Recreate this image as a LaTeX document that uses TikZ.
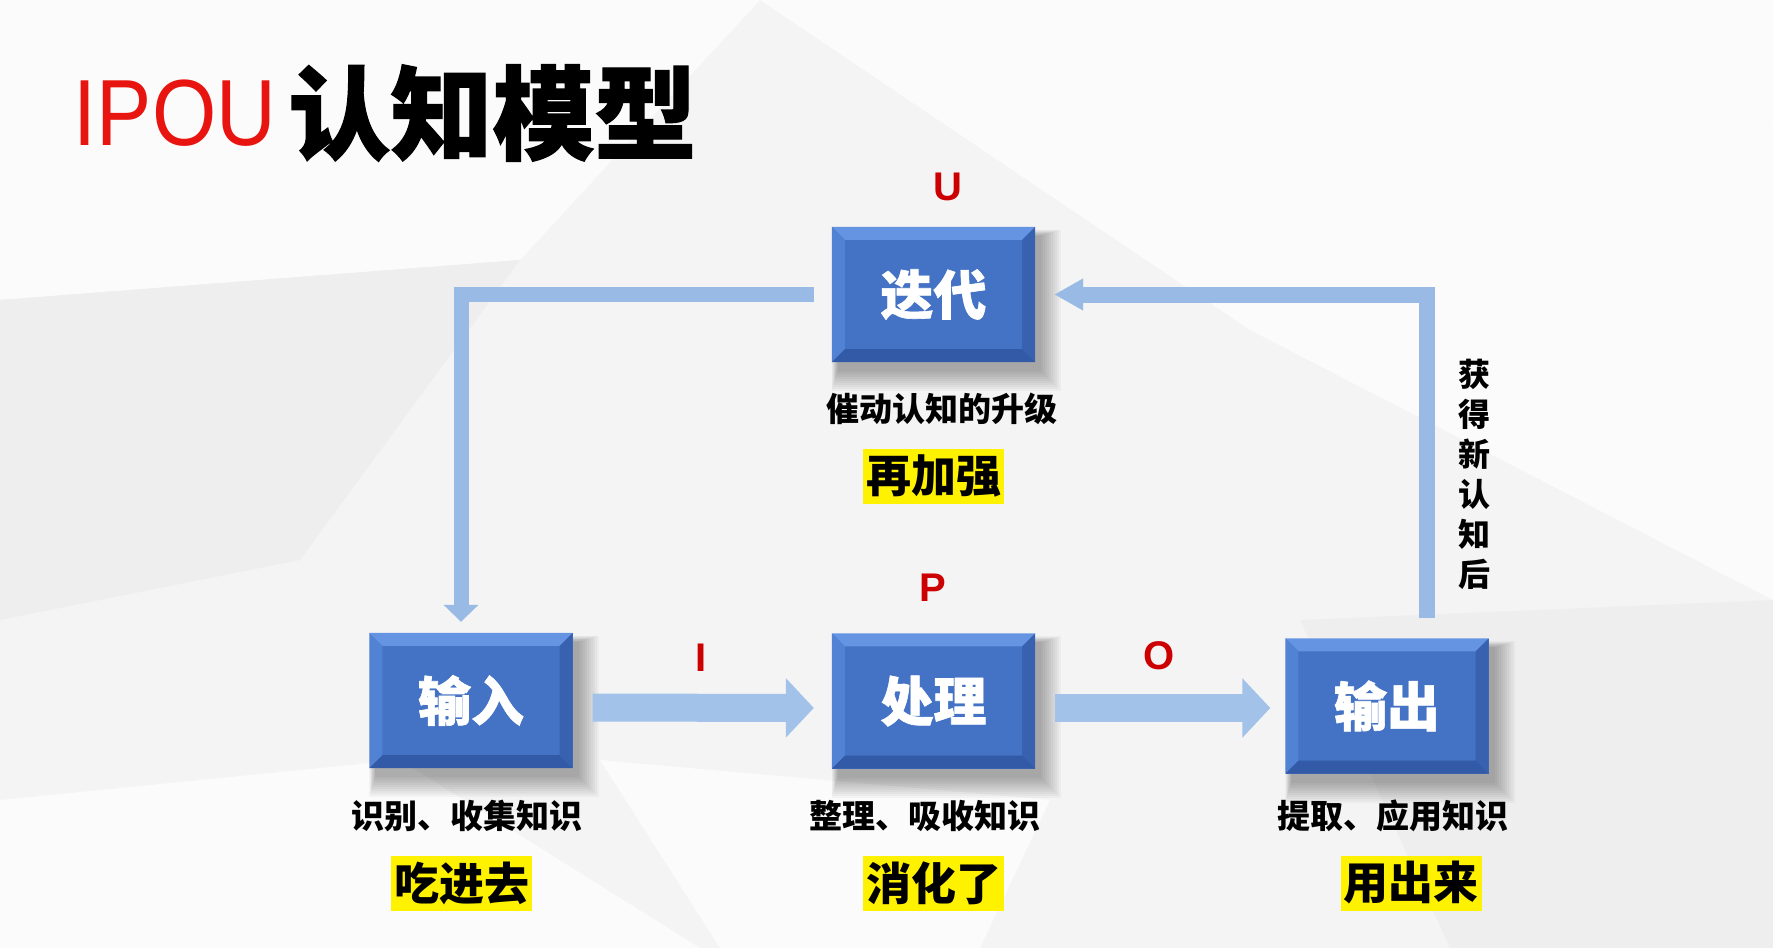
\documentclass[tikz,border=0pt]{standalone}
\usepackage{fontspec}
\setmainfont{Liberation Sans}
\newfontfamily\cjk{Noto Sans CJK SC}
\newfontfamily\cjkheavy{Noto Sans CJK SC}[BoldFeatures={FakeBold=1.2}]
\usetikzlibrary{arrows.meta,calc}
\pgfdeclarelayer{bg}
\pgfdeclarelayer{shadow}
\pgfsetlayers{bg,shadow,main}
\definecolor{bgbase}{RGB}{244,244,244}
\definecolor{bglight}{RGB}{251,251,251}
\definecolor{bgdark}{RGB}{238,238,238}
\definecolor{boxface}{RGB}{68,114,196}
\definecolor{bevtop}{RGB}{100,148,226}
\definecolor{bevleft}{RGB}{82,130,212}
\definecolor{bevright}{RGB}{56,98,176}
\definecolor{bevbottom}{RGB}{50,90,166}
\definecolor{arrowfill}{RGB}{162,194,234}
\definecolor{connfill}{RGB}{152,186,228}
\definecolor{lblred}{RGB}{204,0,0}
\definecolor{titlered}{RGB}{232,20,16}
\definecolor{hiyellow}{RGB}{255,242,0}
\tikzset{
  pbox/.style={fill=boxface, minimum width=203pt, minimum height=135pt, inner sep=0pt},
  boxtext/.style={text=white, font=\fontsize{53}{53}\selectfont\cjkheavy\bfseries},
  sublbl/.style={font=\fontsize{33}{33}\selectfont\cjk\bfseries, text=black, inner sep=0pt},
  hilbl/.style={fill=hiyellow, minimum width=141pt, minimum height=55pt, inner sep=0pt,
    font=\fontsize{45}{45}\selectfont\cjk\bfseries, text=black},
  letter/.style={font=\fontsize{40}{40}\selectfont\bfseries, text=lblred, inner sep=0pt},
  bigarrow/.style={draw=arrowfill, line width=28pt,
    -{Triangle[width=58pt,length=28pt,fill=arrowfill,color=arrowfill]}},
  connline/.style={draw=connfill, line width=15pt, line join=miter},
}
\newcommand\bevelbox[1]{%
  \fill[bevtop] (#1.north west) -- (#1.north east) -- ([shift={(-13pt,-13pt)}]#1.north east) -- ([shift={(13pt,-13pt)}]#1.north west) -- cycle;
  \fill[bevleft] (#1.north west) -- ([shift={(13pt,-13pt)}]#1.north west) -- ([shift={(13pt,13pt)}]#1.south west) -- (#1.south west) -- cycle;
  \fill[bevright] (#1.north east) -- ([shift={(-13pt,-13pt)}]#1.north east) -- ([shift={(-13pt,13pt)}]#1.south east) -- (#1.south east) -- cycle;
  \fill[bevbottom] (#1.south west) -- ([shift={(13pt,13pt)}]#1.south west) -- ([shift={(-13pt,13pt)}]#1.south east) -- (#1.south east) -- cycle;
  \begin{pgfonlayer}{shadow}
  \foreach \k in {0,2,...,20}{%
    \fill[black,opacity=0.03] ([shift={(6pt-0.3*\k pt,-9pt+0.3*\k pt)}]#1.north west) rectangle ([shift={(6pt+\k pt,-9pt-\k pt)}]#1.south east);}
  \end{pgfonlayer}
}
\begin{document}
\begin{tikzpicture}[x=1pt,y=-1pt]
\useasboundingbox (0,0) rectangle (1773,948);
% background
\begin{pgfonlayer}{bg}
\fill[bgbase] (0,0) rectangle (1773,948);
\fill[bglight] (0,0) -- (760,0) -- (520,260) -- (0,300) -- cycle;
\fill[bglight] (760,0) -- (1773,0) -- (1773,120) -- (1250,330) -- cycle;
\fill[bgdark] (0,300) -- (520,260) -- (300,560) -- (0,620) -- cycle;
\fill[bglight] (1250,330) -- (1773,120) -- (1773,600) -- cycle;
\fill[bgdark] (1300,620) -- (1773,600) -- (1773,948) -- (1450,948) -- cycle;
\fill[bglight] (0,800) -- (400,760) -- (700,948) -- (0,948) -- cycle;
\fill[bglight] (600,760) -- (1050,800) -- (980,948) -- (720,948) -- cycle;
\end{pgfonlayer}

% title
\node[inner sep=0pt, text=titlered, font=\fontsize{94}{94}\selectfont] (ttl1) at (175,113) {\scalebox{0.88}[1]{IPOU}};
\node[inner sep=0pt, text=black, font=\fontsize{102}{102}\selectfont\cjkheavy\bfseries, anchor=west] (ttl2) at ([xshift=12pt]ttl1.east) {认知模型};

% boxes
\node[pbox] (iter) at (933.5,294.5) {};
\bevelbox{iter}
\node[boxtext] (itert) at (iter.center) {迭代};
\node[pbox] (inp) at (471,700.5) {};
\bevelbox{inp}
\node[boxtext] (inpt) at (inp.center) {输入};
\node[pbox] (proc) at (933.5,701) {};
\bevelbox{proc}
\node[boxtext] (proct) at (proc.center) {处理};
\node[pbox] (outp) at (1387,706) {};
\bevelbox{outp}
\node[boxtext] (outpt) at (outp.center) {输出};

% letters
\node[letter] (lU) at (948,187) {U};
\node[letter] (lP) at (933,588) {P};
\node[letter] (lI) at (701,658) {I};
\node[letter] (lO) at (1159,656) {O};

% sub labels
\node[sublbl] (s1) at (942,409) {催动认知的升级};
\node[hilbl] (h1) at (933.5,476) {再加强};
\node[sublbl] (s2) at (467,816) {识别、收集知识};
\node[hilbl] (h2) at (461.5,883) {吃进去};
\node[sublbl] (s3) at (925,816) {整理、吸收知识};
\node[hilbl] (h3) at (933.5,883) {消化了};
\node[sublbl] (s4) at (1393,816) {提取、应用知识};
\node[hilbl] (h4) at (1411,883) {用出来};
\node[font=\fontsize{32}{40}\selectfont\cjk\bfseries, align=center, inner sep=0pt] (vt) at (1474,474) {获\\得\\新\\认\\知\\后};

% horizontal arrows
\draw[bigarrow, shorten <=20pt, shorten >=18pt] ([yshift=-7pt]inp.east) -- ([yshift=-7pt]proc.west);
\draw[bigarrow, shorten <=20pt, shorten >=15pt] ([yshift=-7pt]proc.east) -- ([yshift=-2pt]outp.west);

% elbow connectors
\draw[connline, shorten <=18pt, shorten >=11pt,
  -{Triangle[width=34pt,length=17pt,fill=connfill,color=connfill]}]
  (iter.west) -| ([xshift=-10pt]inp.north);
\draw[connline, line width=16pt, shorten <=20pt, shorten >=19pt,
  -{Triangle[width=30pt,length=29pt,fill=connfill,color=connfill]}]
  ([xshift=40pt]outp.north) |- (iter.east);
\end{tikzpicture}
\end{document}
